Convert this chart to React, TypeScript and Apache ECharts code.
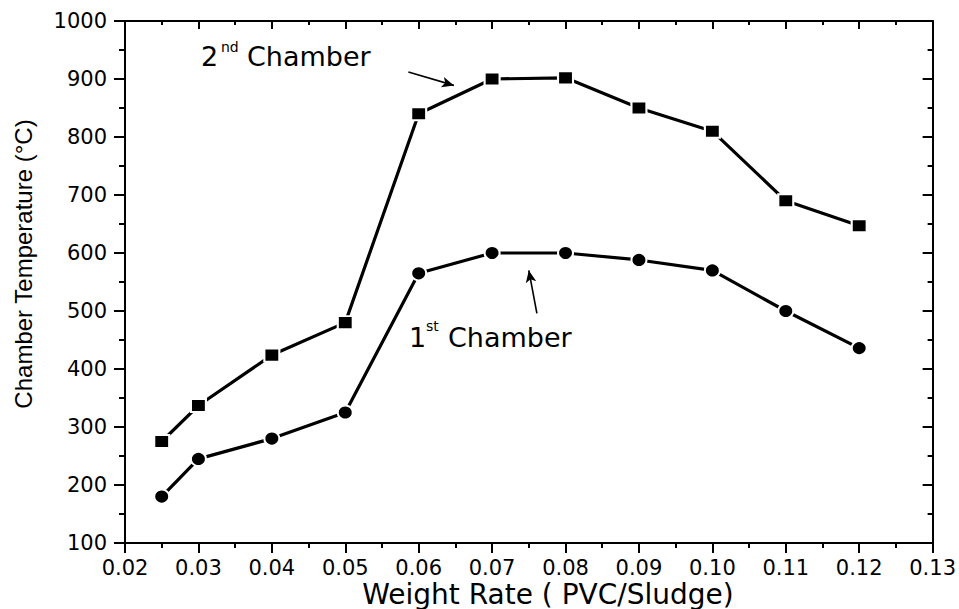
import { useEffect, useRef } from 'react';
import * as echarts from 'echarts';

const weightRates = [0.025, 0.03, 0.04, 0.05, 0.06, 0.07, 0.08, 0.09, 0.1, 0.11, 0.12];
const secondChamber = [275, 337, 424, 480, 840, 900, 902, 850, 810, 690, 647];
const firstChamber = [180, 245, 280, 325, 565, 600, 600, 588, 570, 500, 436];

const xMin = 0.02;
const xMax = 0.13;
const xStep = 0.01;
const yMin = 100;
const yMax = 1000;
const yStep = 100;

// annotation arrows in data coordinates: [from, to]
const arrowSecond = [[0.0586, 912], [0.0648, 889]];
const arrowFirst = [[0.0761, 496], [0.075, 570]];

const FONT = 'DejaVu Sans';

function txt(x: number, y: number, text: string, size: number, family: string, align = 'left', rotation = 0) {
  return {
    type: 'text',
    x,
    y,
    rotation,
    style: {
      text,
      fontSize: size,
      fontFamily: family,
      fill: '#000',
      align,
      verticalAlign: 'middle',
    },
  };
}

export default function App() {
  const ref = useRef<HTMLDivElement>(null);
  useEffect(() => {
    const chart = echarts.init(ref.current!, null, { renderer: 'svg' });
    const axisLine = { show: true, onZero: false, lineStyle: { color: '#000', width: 2 } };
    const baseX = {
      type: 'value' as const,
      min: xMin,
      max: xMax,
      interval: xStep,
      splitLine: { show: false },
      axisLine,
    };
    const baseY = {
      type: 'value' as const,
      min: yMin,
      max: yMax,
      interval: yStep,
      splitLine: { show: false },
      axisLine,
    };
    const markerBorder = { color: '#000', borderColor: '#fff', borderWidth: 2 };
    chart.setOption({
      animation: false,
      backgroundColor: '#fff',
      grid: { left: 125, right: 24, top: 21, bottom: 66, containLabel: false },
      xAxis: [
        {
          ...baseX,
          position: 'bottom',
          axisTick: { show: true, inside: false, length: 10, lineStyle: { color: '#000', width: 2 } },
          minorTick: { show: true, splitNumber: 2, length: 5, lineStyle: { color: '#000', width: 2 } },
          axisLabel: {
            show: true,
            color: '#000',
            fontFamily: FONT,
            fontSize: 21,
            margin: 14,
            formatter: (v: number) => v.toFixed(2),
          },
        },
        {
          ...baseX,
          position: 'top',
          axisTick: { show: true, inside: true, length: 8, lineStyle: { color: '#000', width: 2 } },
          minorTick: { show: true, splitNumber: 2, length: 4, lineStyle: { color: '#000', width: 2 } },
          axisLabel: { show: false },
        },
      ],
      yAxis: [
        {
          ...baseY,
          position: 'left',
          axisTick: { show: true, inside: false, length: 11, lineStyle: { color: '#000', width: 2 } },
          minorTick: { show: true, splitNumber: 2, length: 6, lineStyle: { color: '#000', width: 2 } },
          axisLabel: {
            show: true,
            color: '#000',
            fontFamily: FONT,
            fontSize: 21,
            margin: 18,
            formatter: (v: number) => String(Math.round(v)),
          },
        },
        {
          ...baseY,
          position: 'right',
          axisTick: { show: true, inside: true, length: 10, lineStyle: { color: '#000', width: 2 } },
          minorTick: { show: true, splitNumber: 2, length: 5, lineStyle: { color: '#000', width: 2 } },
          axisLabel: { show: false },
        },
      ],
      series: [
        {
          name: '2nd Chamber',
          type: 'line',
          xAxisIndex: 0,
          yAxisIndex: 0,
          data: weightRates.map((x, i) => [x, secondChamber[i]]),
          symbol: 'rect',
          symbolSize: [15, 13],
          itemStyle: markerBorder,
          lineStyle: { color: '#000', width: 3.2 },
          z: 3,
          markLine: {
            silent: true,
            animation: false,
            symbol: ['none', 'arrow'],
            symbolSize: [8, 12],
            label: { show: false },
            lineStyle: { color: '#000', width: 1.6, type: 'solid' },
            data: [
              [{ coord: arrowSecond[0] }, { coord: arrowSecond[1] }],
              [{ coord: arrowFirst[0] }, { coord: arrowFirst[1] }],
            ],
          },
        },
        {
          name: '1st Chamber',
          type: 'line',
          xAxisIndex: 0,
          yAxisIndex: 0,
          data: weightRates.map((x, i) => [x, firstChamber[i]]),
          symbol: 'circle',
          symbolSize: [15, 14],
          itemStyle: markerBorder,
          lineStyle: { color: '#000', width: 3.2 },
          z: 3,
        },
      ],
      graphic: [
        txt(201, 56.5, '2', 27, FONT),
        txt(221, 47, 'nd', 14, FONT),
        txt(247, 56.5, 'Chamber', 27, FONT),
        txt(409, 337, '1', 27, FONT),
        txt(426, 326, 'st', 14, FONT),
        txt(448, 337, 'Chamber', 27, FONT),
        txt(548, 594, 'Weight Rate ( PVC/Sludge)', 28, FONT, 'center'),
        txt(23, 264, 'Chamber Temperature (°C)', 24, 'Liberation Sans', 'center', Math.PI / 2),
      ],
    });
    return () => chart.dispose();
  }, []);
  return (
    <div
      ref={ref}
      style={{ position: 'absolute', left: 0, top: 0, width: 959, height: 609, background: '#fff' }}
    />
  );
}
